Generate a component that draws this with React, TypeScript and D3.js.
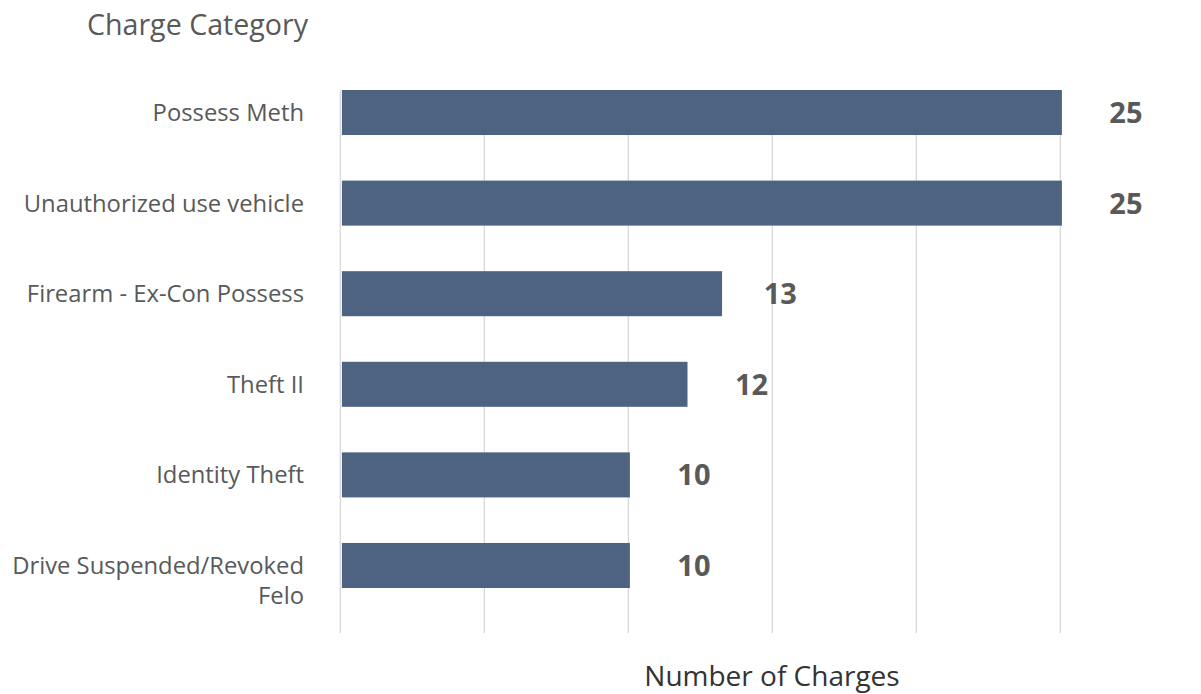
import React from "react";
import * as d3 from "d3";

const categories = [
  "Possess Meth",
  "Unauthorized use vehicle",
  "Firearm - Ex-Con Possess",
  "Theft II",
  "Identity Theft",
  "Drive Suspended/Revoked Felo",
];
const barValues = [25, 25, 13.2, 12, 10, 10];
const xTicks = [0, 5, 10, 15, 20, 25];
const yTitle = "Charge Category";
const xTitle = "Number of Charges";

const W = 1201;
const H = 694;
const FONT = "'Open Sans', 'Noto Sans', sans-serif";
const TEXT = "#595959";
const BAR = "#4e6282";
const GRID = "#d9d9d9";

function wrap(text: string, maxW: number, font: string): string[] {
  const canvas = document.createElement("canvas");
  const ctx = canvas.getContext("2d")!;
  ctx.font = font;
  const words = text.split(" ");
  const lines: string[] = [];
  let cur = "";
  for (const w of words) {
    const t = cur ? cur + " " + w : w;
    if (ctx.measureText(t).width > maxW && cur) {
      lines.push(cur);
      cur = w;
    } else cur = t;
  }
  if (cur) lines.push(cur);
  return lines;
}

export default function App() {
  const x = d3.scaleLinear().domain([0, 25]).range([340.3, 1060.3]);
  const y = d3
    .scaleBand<string>()
    .domain(categories)
    .range([90, 588])
    .paddingInner(0.503)
    .paddingOuter(0);
  const plotTop = 90;
  const plotBottom = 633;
  const barOffset = 1.6;
  const fmt = d3.format(".0f");

  return (
    <div style={{ position: "absolute", left: 0, top: 0 }}>
      <svg width={W} height={H} style={{ display: "block", background: "#fff" }}>
        {xTicks.map((t) => (
          <line
            key={t}
            x1={x(t)}
            x2={x(t)}
            y1={plotTop}
            y2={plotBottom}
            stroke={GRID}
            strokeWidth={1.3}
          />
        ))}
        {categories.map((c, i) => {
          const v = barValues[i];
          const y0 = y(c)!;
          const bw = y.bandwidth();
          const cy = y0 + bw / 2;
          const lines = wrap(c, 300, `23.8px ${FONT}`);
          const lv = Math.round(v);
          return (
            <g key={c}>
              <rect
                x={x(0) + barOffset}
                y={y0}
                width={x(v) - x(0)}
                height={bw}
                fill={BAR}
              />
              <text
                x={x(lv) + barOffset + 64}
                y={cy + 10.5}
                textAnchor="middle"
                fontFamily={FONT}
                fontWeight={700}
                fontSize={29}
                fill={TEXT}
              >
                {fmt(lv)}
              </text>
              <text
                textAnchor="end"
                fontFamily={FONT}
                fontSize={23.8}
                fill={TEXT}
              >
                {lines.map((ln, k) => (
                  <tspan key={k} x={304} y={cy + 8.5 + k * 30}>
                    {ln}
                  </tspan>
                ))}
              </text>
            </g>
          );
        })}
        <text x={87} y={35} fontFamily={FONT} fontSize={28.6} fill={TEXT}>
          {yTitle}
        </text>
        <text
          x={772}
          y={685.5}
          textAnchor="middle"
          fontFamily={FONT}
          fontSize={28}
          fill="#333333"
        >
          {xTitle}
        </text>
      </svg>
    </div>
  );
}
